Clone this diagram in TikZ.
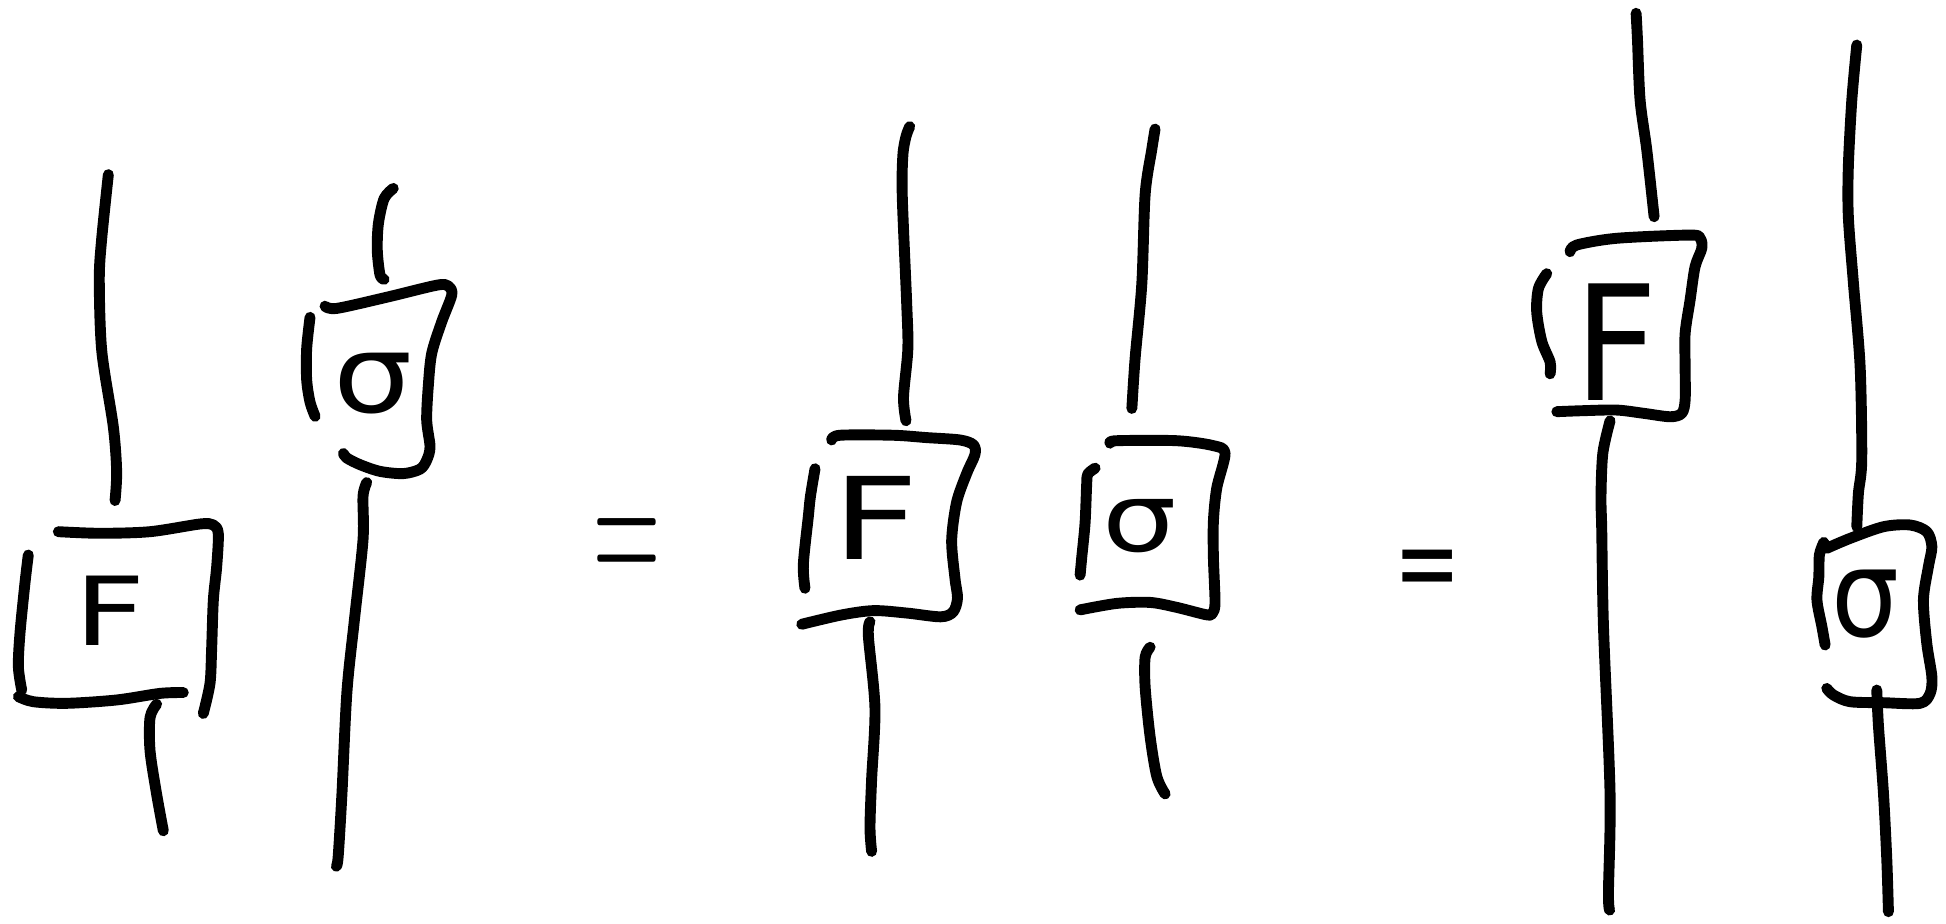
\documentclass[tikz,border=0pt]{standalone}
\usepackage{fontspec}
\usepackage{graphicx}
\newfontfamily\hand{DejaVu Sans}
\newcommand{\glyphsz}[4]{{\fontsize{#1}{#1}\selectfont\scalebox{#2}[#3]{#4}}}
\tikzset{
  ink/.style={line width=5pt, line cap=round, line join=round, black},
  lab/.style={inner sep=0pt, outer sep=0pt, anchor=base},
}
\begin{document}
\begin{tikzpicture}[x=0.02cm, y=-0.02cm]
\useasboundingbox (0,0) rectangle (1568,744);
% ---------------- Panel 1: F box ----------------
\draw[ink] plot[smooth, tension=0.5] coordinates {(87.3,140.7) (81.9,192.8) (80,225.2) (82,282.8) (91.3,343.9) (94,380) (92.7,403.3)};
\draw[ink] plot[smooth, tension=0.5] coordinates {(47,428.4) (80.6,429.7) (120.9,428.4) (161.2,422.2) (171.9,423) (175.9,430) (174.6,456.6) (171.9,483.5) (170.5,523.8) (169.2,550.7) (163.8,574.9)};
\draw[ink] plot[smooth, tension=0.5] coordinates {(22.8,447.2) (20.1,470) (16.1,510.3) (14.8,537.2) (17.5,556)};
\draw[ink] plot[smooth, tension=0.5] coordinates {(14.8,561.3) (26.9,565.4) (53.7,566.7) (94,564) (128.9,558.7) (147.7,558)};
\draw[ink] plot[smooth, tension=0.5] coordinates {(126.2,567.4) (120.9,578.1) (120.9,605) (126.2,639.9) (131.6,669.4)};
\node[lab] (F1) at (88.6,520) {\hand\glyphsz{43.7pt}{1.3}{1}{F}};
% ---------------- Panel 1: sigma box ----------------
\draw[ink] plot[smooth, tension=0.5] coordinates {(316.9,151.8) (309.5,160) (304.9,180.2) (304,201.7) (306.2,221.5) (309.5,225.1)};
\draw[ink] plot[smooth, tension=0.5] coordinates {(261.9,246.7) (271.3,248.5) (311.6,239.5) (351.9,229.8) (361.3,230.5) (364,237.7) (355.9,259.3) (347.9,284.5) (345.2,309.7) (343.8,338.4) (346.5,360) (343.8,370.8) (338.5,378) (325,381.6) (306.2,379.8) (290.1,374.4) (279.4,369) (276.7,365.4)};
\draw[ink] plot[smooth, tension=0.5] coordinates {(249.8,255.7) (247.1,280.9) (247.1,306) (249.8,324) (253.9,335.5)};
\draw[ink] plot[smooth, tension=0.5] coordinates {(295.5,388.8) (292.5,400) (292.5,435) (285.5,500) (279.5,558) (275.5,640) (272.5,690) (271,698)};
\node[lab] (s1) at (301,332) {\hand\glyphsz{49.8pt}{1.15}{1}{σ}};
% ---------------- first equals ----------------
\node[lab] (eq1) at (505,476.8) {\glyphsz{42.7pt}{1}{2.2}{=}};
% ---------------- Panel 2: F box ----------------
\draw[ink] plot[smooth, tension=0.5] coordinates {(733,102) (730,110) (727.5,125) (727,158) (730.5,242.8) (731.5,281) (728,320) (730,339)};
\draw[ink] plot[smooth, tension=0.5] coordinates {(670.1,354.5) (676.8,350.7) (719.8,350.7) (746.7,352.6) (773.5,354.5) (784.3,358.4) (785.6,366.1) (778.9,381.5) (770.8,404.6) (766.8,435.5) (769.5,466.3) (771.5,482) (768,493) (758,497) (731,494) (704,492) (678,495.5) (646,503)};
\draw[ink] plot[smooth, tension=0.5] coordinates {(656.7,377.7) (653,400) (651.3,416.2) (647.3,454.7) (648.6,474)};
\draw[ink] plot[smooth, tension=0.5] coordinates {(701,501) (699.7,512.6) (705,570.4) (702.3,628.2) (701,666.7) (702.3,686)};
\node[lab] (F2) at (705.8,450.5) {\hand\glyphsz{52.3pt}{1.32}{1}{F}};
% ---------------- Panel 2: sigma box ----------------
\draw[ink] plot[smooth, tension=0.5] coordinates {(930.7,104) (928,120.7) (922.7,156.7) (920,228.9) (914.6,289) (912,329.1)};
\draw[ink] plot[smooth, tension=0.5] coordinates {(894.4,357.1) (899.8,355.1) (948.2,355.1) (977.7,359.1) (987.1,365.2) (980.4,393.2) (977.7,420) (977.7,449.3) (979,485.4) (977,494) (972.3,495.4) (948.2,489.4) (926.7,485.4) (899.8,486.2) (870.3,491.4)};
\draw[ink] plot[smooth, tension=0.5] coordinates {(882.4,377.2) (876.5,382) (875.6,390) (874.3,421.3) (871.6,449.3) (870.3,463.4)};
\draw[ink] plot[smooth, tension=0.5] coordinates {(926.7,521.5) (922.7,529.5) (922.7,553.5) (926.7,593.6) (932.1,625.7) (938.8,639.7)};
\node[lab] (s2) at (918.5,444.5) {\hand\glyphsz{43.7pt}{1.23}{1}{σ}};
% ---------------- second equals ----------------
\node[lab] (eq2) at (1150.5,484.5) {\hand\glyphsz{36.3pt}{1}{1.43}{=}};
% ---------------- Panel 3: F box ----------------
\draw[ink] plot[smooth, tension=0.5] coordinates {(1318.3,10.7) (1319.4,32.2) (1321.5,80.6) (1326.9,120.9) (1332.8,174.6)};
\draw[ink] plot[smooth, tension=0.5] coordinates {(1265.1,202.8) (1270.5,197.4) (1302.7,192) (1361.8,189.4) (1369.9,192) (1371.2,200.1) (1365.8,214.9) (1361.8,241.7) (1357.8,268.6) (1357.8,295.5) (1357.8,322.3) (1355.1,333) (1345.7,335.8) (1324.2,333) (1302.7,330.4) (1275.8,330.9) (1254.4,331.7)};
\draw[ink] plot[smooth, tension=0.5] coordinates {(1246.3,220.5) (1239.6,232.4) (1238.2,251.4) (1242.3,275.1) (1249,291.7) (1249,301.2)};
\draw[ink] plot[smooth, tension=0.5] coordinates {(1297.3,339.1) (1291.5,365) (1290,400) (1290.6,426.9) (1292,505) (1297.3,639.3) (1296,719.8) (1297,733.3)};
\node[lab] (F3) at (1302.5,323) {\hand\glyphsz{56.9pt}{1.17}{1.29}{F}};
% ---------------- Panel 3: sigma box ----------------
\draw[ink] plot[smooth, tension=0.5] coordinates {(1496.1,36.3) (1492.1,80.6) (1489.3,134.3) (1489.3,174.6) (1493.4,228.3) (1498.8,295.5) (1500.1,370.7) (1497.4,397.5) (1496.1,424.4)};
\draw[ink] plot[smooth, tension=0.5] coordinates {(1471.9,441.8) (1490.7,433.8) (1517.6,424.4) (1539,423) (1552.5,428.4) (1556.6,440.5) (1553.8,456.6) (1549.8,483.5) (1552.5,518.4) (1556.6,545.3) (1555.2,558.7) (1547.1,566.7) (1517.6,566.2) (1490.7,565.4) (1477.3,560) (1471.9,554.7)};
\draw[ink] plot[smooth, tension=0.5] coordinates {(1469.5,437) (1466,447) (1465.5,465) (1464,483.5) (1468,505) (1470.6,519.7)};
\draw[ink] plot[smooth, tension=0.5] coordinates {(1512.2,556) (1513.6,585.5) (1517.6,639.3) (1520.3,693) (1521.6,734.6)};
\node[lab] (s3) at (1503,513) {\hand\glyphsz{51.2pt}{0.96}{1.09}{σ}};
\end{tikzpicture}
\end{document}
